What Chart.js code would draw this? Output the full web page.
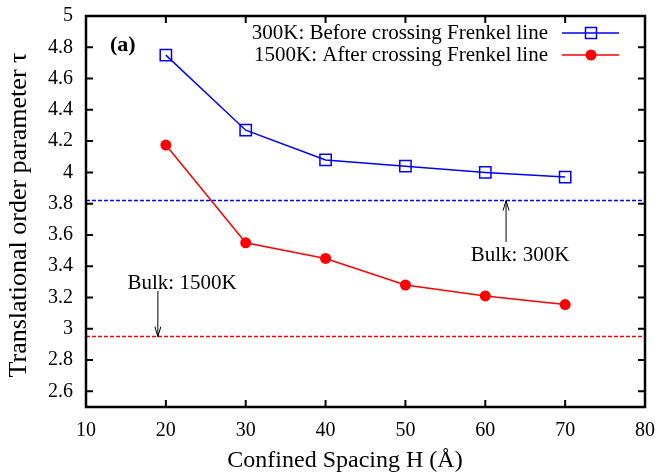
<!DOCTYPE html>
<html>
<head>
<meta charset="utf-8">
<script src="https://cdn.jsdelivr.net/npm/chart.js@4"></script>
<style>
  html, body { margin: 0; padding: 0; background: #fff; }
  canvas { display: block; }
</style>
</head>
<body>
<canvas id="chart" width="659" height="476"></canvas>
<script>
// data
const spacing = [20, 30, 40, 50, 60, 70];
const tau300 = [4.75, 4.27, 4.08, 4.04, 4.00, 3.97];
const tau1500 = [4.175, 3.55, 3.45, 3.28, 3.21, 3.155];
const bulk300 = 3.82;
const bulk1500 = 2.95;
const xTicks = [10, 20, 30, 40, 50, 60, 70, 80];
const yTicks = [2.6, 2.8, 3, 3.2, 3.4, 3.6, 3.8, 4, 4.2, 4.4, 4.6, 4.8, 5];

const SERIF = "'Liberation Serif', 'DejaVu Serif', serif";

function toPoints(xs, ys) {
  return xs.map((x, i) => ({ x: x, y: ys[i] }));
}

// frame, inward ticks, titles, bulk arrows, legend and "(a)"
const decor = {
  id: 'decor',
  afterDatasetsDraw(chart) {
    const ctx = chart.ctx;
    const a = chart.chartArea;
    const xs = chart.scales.x, ys = chart.scales.y;
    ctx.save();

    // ticks
    ctx.strokeStyle = '#000';
    ctx.lineWidth = 2;
    ctx.beginPath();
    xTicks.forEach(v => {
      const px = xs.getPixelForValue(v);
      ctx.moveTo(px, a.bottom); ctx.lineTo(px, a.bottom - 7);
      ctx.moveTo(px, a.top); ctx.lineTo(px, a.top + 7);
    });
    yTicks.forEach(v => {
      const py = ys.getPixelForValue(v);
      ctx.moveTo(a.left, py); ctx.lineTo(a.left + 7, py);
      ctx.moveTo(a.right, py); ctx.lineTo(a.right - 7, py);
    });
    ctx.stroke();

    // frame
    ctx.lineWidth = 2.5;
    ctx.strokeRect(a.left, a.top, a.right - a.left, a.bottom - a.top);

    // axis titles
    ctx.fillStyle = '#000';
    ctx.textBaseline = 'middle';
    ctx.textAlign = 'center';
    ctx.font = '24px ' + SERIF;
    ctx.fillText('Confined Spacing H (Å)', 345, 461);
    ctx.save();
    ctx.translate(19, 215);
    ctx.rotate(-Math.PI / 2);
    ctx.font = '26px ' + SERIF;
    ctx.fillText('Translational order parameter τ', 0, 0);
    ctx.restore();

    // arrows to bulk lines
    function arrow(xv, y0, yv) {
      const px = xs.getPixelForValue(xv);
      const py = ys.getPixelForValue(yv);
      const dir = Math.sign(py - y0);
      ctx.strokeStyle = '#000';
      ctx.lineWidth = 1;
      ctx.beginPath();
      ctx.moveTo(px, y0); ctx.lineTo(px, py);
      ctx.moveTo(px - 3, py - dir * 10); ctx.lineTo(px, py); ctx.lineTo(px + 3, py - dir * 10);
      ctx.stroke();
    }
    arrow(62.6, 242, bulk300);
    arrow(19.0, 291, bulk1500);

    ctx.font = '21px ' + SERIF;
    ctx.fillText('Bulk: 300K', 520, 255);
    ctx.fillText('Bulk: 1500K', 182, 283);

    ctx.font = 'bold 22px ' + SERIF;
    ctx.textAlign = 'left';
    ctx.fillText('(a)', 110, 45);

    // legend
    ctx.font = '21px ' + SERIF;
    ctx.textAlign = 'right';
    ctx.fillText('300K: Before crossing Frenkel line', 548, 33);
    ctx.fillText('1500K: After crossing Frenkel line', 548, 55);
    ctx.lineWidth = 1.5;
    ctx.strokeStyle = '#0000ff';
    ctx.beginPath(); ctx.moveTo(562, 33); ctx.lineTo(619, 33); ctx.stroke();
    ctx.strokeRect(585.5, 27.5, 11, 11);
    ctx.strokeStyle = '#ff0000';
    ctx.beginPath(); ctx.moveTo(562, 55); ctx.lineTo(619, 55); ctx.stroke();
    ctx.fillStyle = '#ff0000';
    ctx.beginPath(); ctx.arc(591, 55, 5.5, 0, Math.PI * 2); ctx.fill();

    ctx.restore();
  }
};

new Chart(document.getElementById('chart'), {
  type: 'scatter',
  data: {
    datasets: [
      {
        label: 'bulk300',
        data: toPoints([10, 80], [bulk300, bulk300]),
        showLine: true, borderColor: '#0000ff', borderWidth: 1.5,
        borderDash: [4, 2], pointRadius: 0
      },
      {
        label: 'bulk1500',
        data: toPoints([10, 80], [bulk1500, bulk1500]),
        showLine: true, borderColor: '#ff0000', borderWidth: 1.5,
        borderDash: [4, 2], pointRadius: 0
      },
      {
        label: '300K: Before crossing Frenkel line',
        data: toPoints(spacing, tau300),
        showLine: true, borderColor: '#0000ff', borderWidth: 1.5,
        pointStyle: 'rect', pointRadius: 8, pointBorderWidth: 1.5,
        pointBackgroundColor: 'rgba(0,0,0,0)', pointBorderColor: '#0000ff'
      },
      {
        label: '1500K: After crossing Frenkel line',
        data: toPoints(spacing, tau1500),
        showLine: true, borderColor: '#ff0000', borderWidth: 1.5,
        pointStyle: 'circle', pointRadius: 5.5, pointBorderWidth: 0,
        pointBackgroundColor: '#ff0000'
      }
    ]
  },
  options: {
    responsive: false,
    animation: false,
    layout: { padding: { top: 16, right: 14, left: 0, bottom: 0 } },
    plugins: { legend: { display: false }, tooltip: { enabled: false } },
    scales: {
      x: {
        type: 'linear', min: 10, max: 80,
        afterBuildTicks: s => { s.ticks = xTicks.map(v => ({ value: v })); },
        afterFit: s => { s.height = 69; s.paddingLeft = 0; s.paddingRight = 0; },
        grid: { display: false, drawTicks: false },
        border: { display: false },
        ticks: { color: '#000', padding: 12, font: { family: SERIF, size: 20 }, maxRotation: 0 }
      },
      y: {
        type: 'linear', min: 2.5, max: 5,
        afterBuildTicks: s => { s.ticks = yTicks.map(v => ({ value: v })); },
        afterFit: s => { s.width = 86; s.paddingTop = 0; s.paddingBottom = 0; },
        grid: { display: false, drawTicks: false },
        border: { display: false },
        ticks: { color: '#000', padding: 13, font: { family: SERIF, size: 20 }, callback: v => String(+v.toFixed(1)) }
      }
    }
  },
  plugins: [decor]
});
</script>
</body>
</html>
